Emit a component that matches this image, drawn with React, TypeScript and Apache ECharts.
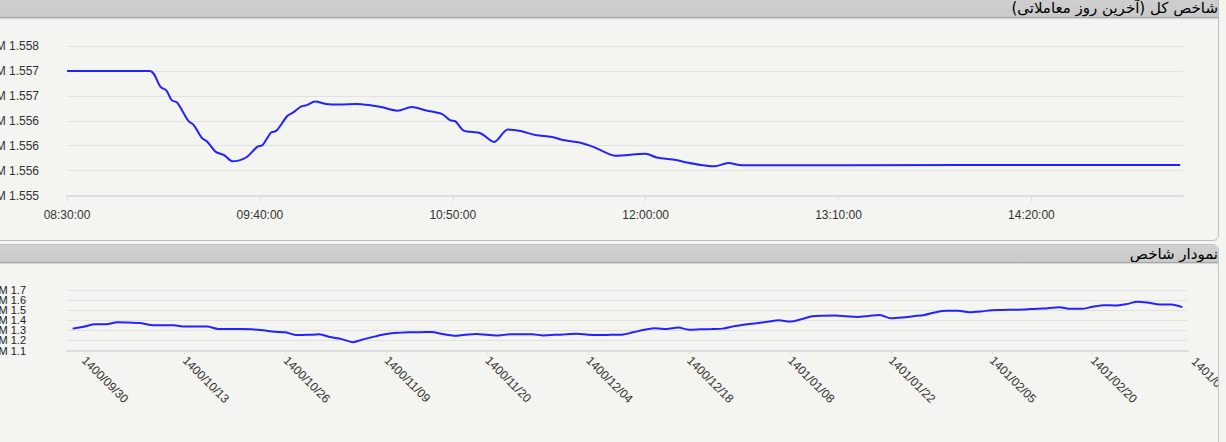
import React, { useEffect, useRef } from "react";
import * as echarts from "echarts";

// ---- Top chart: intraday index (minutes after 08:30) ----
const topMinutes = [0, 30, 34, 36, 38, 40, 44, 46, 49, 51, 54, 57, 60, 65, 69, 71, 74, 76, 80, 82, 85, 87, 90, 94, 99, 105, 110, 114, 120, 125, 130, 136, 139, 141, 144, 150, 155, 160, 165, 170, 176, 180, 186, 191, 194, 199, 210, 214, 221, 225, 230, 235, 240, 245, 324, 404];
const topValues = [1557200, 1557200, 1556940, 1556890, 1556730, 1556690, 1556400, 1556330, 1556120, 1556060, 1555900, 1555850, 1555750, 1555810, 1555980, 1556010, 1556210, 1556240, 1556480, 1556530, 1556630, 1556650, 1556710, 1556670, 1556660, 1556670, 1556650, 1556620, 1556560, 1556620, 1556570, 1556510, 1556410, 1556390, 1556240, 1556200, 1556060, 1556260, 1556230, 1556170, 1556140, 1556090, 1556050, 1555980, 1555920, 1555840, 1555870, 1555810, 1555770, 1555730, 1555690, 1555670, 1555720, 1555685, 1555690, 1555690];
const timeTickMinutes = [0, 70, 140, 210, 280, 350];
const timeTickLabels = ["08:30:00", "09:40:00", "10:50:00", "12:00:00", "13:10:00", "14:20:00"];

// ---- Bottom chart: daily index ----
const dailyValues = [1317000, 1336000, 1360000, 1360000, 1380000, 1377000, 1373000, 1353000, 1350000, 1350000,
  1337000, 1337000, 1337000, 1313000, 1313000, 1313000, 1310000, 1300000, 1287000, 1280000,
  1253000, 1255000, 1260000, 1233000, 1213000, 1183000, 1213000, 1240000, 1263000, 1275000,
  1280000, 1282000, 1283000, 1263000, 1247000, 1255000, 1263000, 1255000, 1250000, 1260000,
  1260000, 1260000, 1250000, 1255000, 1260000, 1267000, 1257000, 1253000, 1255000, 1257000,
  1280000, 1305000, 1320000, 1313000, 1327000, 1307000, 1310000, 1313000, 1317000, 1340000,
  1357000, 1370000, 1385000, 1400000, 1387000, 1410000, 1440000, 1445000, 1447000, 1440000,
  1433000, 1443000, 1453000, 1420000, 1427000, 1440000, 1453000, 1480000, 1493000, 1493000,
  1480000, 1487000, 1500000, 1502000, 1504000, 1506000, 1515000, 1520000, 1530000, 1513000,
  1513000, 1533000, 1550000, 1547000, 1560000, 1583000, 1573000, 1557000, 1557000, 1530000];
// y tick labels are split over two axes so that the library does not thin the tight labels out
const dailyTicksOdd = [1100000, 1300000, 1500000, 1700000];
const dailyTicksEven = [1200000, 1400000, 1600000];
const dateLabels = ["1400/09/30", "1400/10/13", "1400/10/26", "1400/11/09", "1400/11/20", "1400/12/04",
  "1400/12/18", "1401/01/08", "1401/01/22", "1401/02/05", "1401/02/20", "1401/03/03"];
const firstLabelIndex = 1;
const labelStep = 9;

const title1 = "شاخص کل (آخرین روز معاملاتی)";
const title2 = "نمودار شاخص";

const BG = "#f4f4f0";
const LINE = "#2323ff";
const GRID = "#e2e2e2";
const AXIS = "#dddddd";
const TEXT = "#333333";
const FONT = "'Liberation Sans', Arial, sans-serif";

const categories = dailyValues.map((_, i) => {
  const k = (i - firstLabelIndex) / labelStep;
  return Number.isInteger(k) && k >= 0 && k < dateLabels.length ? dateLabels[k] : "";
});

export default function App() {
  const topRef = useRef<HTMLDivElement>(null);
  const botRef = useRef<HTMLDivElement>(null);

  useEffect(() => {
    const c1 = echarts.init(topRef.current!, null, { renderer: "svg" });
    c1.setOption({
      animation: false,
      backgroundColor: "transparent",
      grid: { left: 67, top: 28, width: 1116, height: 149.5, containLabel: false, outerBoundsMode: "none" },
      xAxis: {
        type: "value",
        min: 0,
        max: 405,
        interval: 70,
        axisLine: { show: true, lineStyle: { color: AXIS, width: 2 } },
        axisTick: { show: true, length: 6, lineStyle: { color: AXIS }, customValues: timeTickMinutes },
        axisLabel: {
          color: TEXT, fontSize: 12, fontFamily: FONT, margin: 13,
          customValues: timeTickMinutes,
          formatter: (v: number) => timeTickLabels[timeTickMinutes.indexOf(v)] ?? "",
        },
        splitLine: { show: false },
      },
      yAxis: {
        type: "value",
        min: 1555200,
        max: 1557600,
        interval: 400,
        axisLine: { show: false },
        axisTick: { show: false },
        axisLabel: {
          color: TEXT, fontSize: 12, fontFamily: FONT, margin: 28,
          showMinLabel: true, showMaxLabel: true,
          formatter: (v: number) => "M " + (v / 1e6).toFixed(3),
        },
        splitLine: { lineStyle: { color: GRID, width: 1 } },
      },
      series: [{
        type: "line",
        data: topMinutes.map((m, i) => [m, topValues[i]]),
        showSymbol: false,
        smooth: 0.3,
        lineStyle: { color: LINE, width: 2 },
      }],
    });

    const c2 = echarts.init(botRef.current!, null, { renderer: "svg" });
    const showIdx = (i: number) => (i - firstLabelIndex) % labelStep === 0 && i >= firstLabelIndex;
    const yLabel = (vals: number[]) => ({
      color: "#222", fontSize: 11, fontFamily: FONT, margin: 41,
      customValues: vals,
      formatter: (v: number) => "M " + (v / 1e6).toFixed(1),
    });
    c2.setOption({
      animation: false,
      backgroundColor: "transparent",
      grid: { left: 67, top: 27, width: 1121, height: 60.5, containLabel: false, outerBoundsMode: "none" },
      xAxis: {
        type: "category",
        data: categories,
        boundaryGap: true,
        axisLine: { show: true, lineStyle: { color: AXIS, width: 2 } },
        axisTick: { show: true, length: 4, alignWithLabel: true, interval: showIdx, lineStyle: { color: AXIS } },
        axisLabel: {
          color: TEXT, fontSize: 12, fontFamily: FONT, rotate: -45, margin: 8,
          interval: showIdx,
        },
        splitLine: { show: false },
      },
      yAxis: [
        {
          type: "value",
          position: "left",
          min: 1100000,
          max: 1700000,
          interval: 100000,
          axisLine: { show: false },
          axisTick: { show: false },
          axisLabel: yLabel(dailyTicksOdd),
          splitLine: { lineStyle: { color: GRID, width: 1 } },
        },
        {
          type: "value",
          position: "left",
          offset: 0,
          min: 1100000,
          max: 1700000,
          interval: 100000,
          axisLine: { show: false },
          axisTick: { show: false },
          axisLabel: yLabel(dailyTicksEven),
          splitLine: { show: false },
        },
      ],
      series: [{
        type: "line",
        data: dailyValues,
        showSymbol: false,
        smooth: 0.3,
        lineStyle: { color: LINE, width: 2 },
      }],
    });
    // last date label lies one step past the data; place it with the axis scale
    const lastIdx = firstLabelIndex + labelStep * (dateLabels.length - 1);
    const px = c2.convertToPixel({ xAxisIndex: 0 }, lastIdx) as unknown as number;
    const py = c2.convertToPixel({ yAxisIndex: 0 }, 1100000) as unknown as number;
    if (typeof px === "number" && typeof py === "number") {
      c2.setOption({
        graphic: [{
          type: "text",
          x: px,
          y: py + 9,
          rotation: -Math.PI / 4,
          style: {
            text: dateLabels[dateLabels.length - 1],
            fill: TEXT, fontSize: 12, fontFamily: FONT,
            align: "left", verticalAlign: "middle",
          },
        }],
      });
    }
    return () => {
      c1.dispose();
      c2.dispose();
    };
  }, []);

  const headerStyle: React.CSSProperties = {
    position: "absolute", left: 0, right: 0,
    background: "linear-gradient(#d2d2d2, #c9c9c9)",
    borderBottom: "1px solid #a8a8a8",
    boxShadow: "0 1px 1px rgba(0,0,0,0.12)",
    direction: "rtl", textAlign: "right",
    fontFamily: "'DejaVu Sans', 'Noto Sans', sans-serif",
    fontSize: 15, color: "#000", whiteSpace: "nowrap", overflow: "hidden",
  };

  return (
    <div style={{ position: "fixed", left: 0, top: 0, width: 1226, height: 442, background: BG, overflow: "hidden" }}>
      <div style={{ position: "absolute", left: -10, top: -10, width: 1229, height: 251, boxSizing: "border-box",
        border: "1px solid #bdbdbd", borderRadius: 6, background: BG, overflow: "hidden" }}>
        <div style={{ ...headerStyle, top: 0, height: 26, lineHeight: "34px" }}>{title1}</div>
      </div>
      <div style={{ position: "absolute", left: -10, top: 244, width: 1229, height: 220, boxSizing: "border-box",
        border: "1px solid #c4c4c4", borderRadius: 6, background: BG, overflow: "hidden" }}>
        <div style={{ ...headerStyle, top: 0, height: 17, lineHeight: "18px" }}>{title2}</div>
      </div>
      <div ref={topRef} style={{ position: "absolute", left: 0, top: 18, width: 1218, height: 222 }} />
      <div ref={botRef} style={{ position: "absolute", left: 0, top: 263, width: 1218, height: 179 }} />
    </div>
  );
}
